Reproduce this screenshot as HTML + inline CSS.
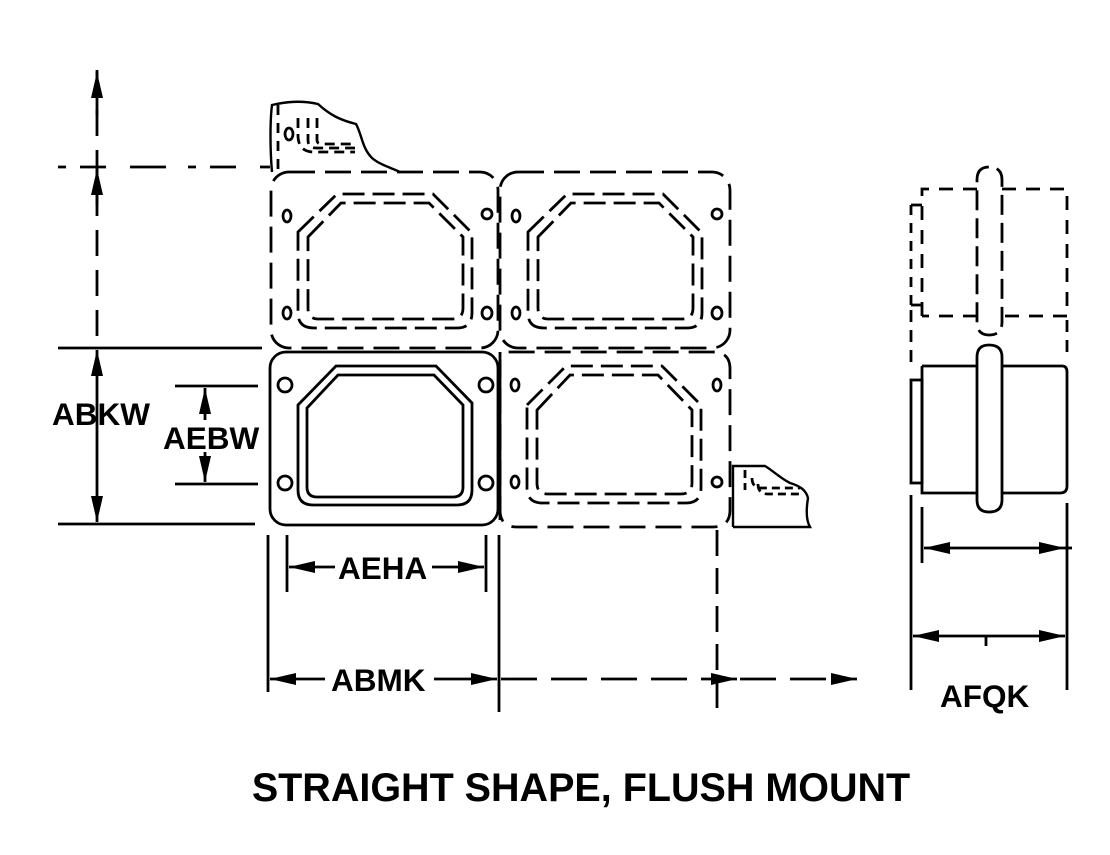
<!DOCTYPE html>
<html><head><meta charset="utf-8"><style>
html,body{margin:0;padding:0;background:#fff;}
svg{display:block;}
text{font-family:"Liberation Sans",Arial,sans-serif;font-weight:bold;fill:#000;}
</style></head><body>
<svg width="1110" height="855" viewBox="0 0 1110 855" xmlns="http://www.w3.org/2000/svg">
<defs>
<marker id="a" viewBox="0 0 26 12" refX="26" refY="6" markerWidth="26" markerHeight="12" markerUnits="userSpaceOnUse" orient="auto-start-reverse"><path d="M0,0 L26,6 L0,12 Z" fill="#000"/></marker>
</defs>
<g fill="none" stroke="#000" stroke-width="2.8">
<!-- left dims -->
<line x1="97" y1="70" x2="97" y2="348" stroke-dasharray="26,14" />
<line x1="97" y1="115" x2="97" y2="72" marker-end="url(#a)"/>
<line x1="97" y1="205" x2="97" y2="169" marker-end="url(#a)"/>
<line x1="58" y1="167" x2="270" y2="167" stroke-dasharray="8,14,26,24,36,22" />
<line x1="58" y1="348" x2="262" y2="348"/>
<line x1="58" y1="524" x2="255" y2="524"/>
<line x1="97" y1="350" x2="97" y2="522" marker-start="url(#a)" marker-end="url(#a)"/>
<line x1="175" y1="386" x2="258" y2="386"/>
<line x1="175" y1="484" x2="258" y2="484"/>
<line x1="205" y1="388" x2="205" y2="420" marker-start="url(#a)"/>
<line x1="205" y1="452" x2="205" y2="482" marker-end="url(#a)"/>
<!-- bottom dims -->
<line x1="287" y1="535" x2="287" y2="592"/>
<line x1="486" y1="535" x2="486" y2="592"/>
<line x1="289" y1="567" x2="335" y2="567" marker-start="url(#a)"/>
<line x1="432" y1="567" x2="484" y2="567" marker-end="url(#a)"/>
<line x1="268" y1="535" x2="268" y2="692"/>
<line x1="499" y1="535" x2="499" y2="712"/>
<line x1="270" y1="679" x2="325" y2="679" marker-start="url(#a)"/>
<line x1="434" y1="679" x2="497" y2="679" marker-end="url(#a)"/>
<line x1="501" y1="679" x2="737" y2="679" stroke-dasharray="36,14" marker-end="url(#a)"/>
<line x1="740" y1="679" x2="857" y2="679" stroke-dasharray="36,14" marker-end="url(#a)"/>
<line x1="717" y1="530" x2="717" y2="715" stroke-dasharray="26,12"/>
<!-- top fragment -->
<path d="M272,172 C270,150 270,120 272,105 C285,102 300,100 318,104 C330,115 340,120 356,124 C362,135 362,148 372,158 C380,165 392,168 400,172" stroke-width="2.4"/>
<path d="M278,105 L278,170" stroke-dasharray="10,8"/>
<path d="M298,118 L298,135 Q298,152 314,152 L355,152 M308,118 L308,140 Q308,148 316,148 L355,148 M317,118 L317,140 Q317,144 322,144 L355,144" stroke-dasharray="10,6"/>
<ellipse cx="289" cy="134" rx="4" ry="6"/>
<!-- top-left plate -->
<rect x="271" y="172" width="227" height="176" rx="18" stroke-dasharray="26,10"/>
<path d="M298,232 L337,194 L433,194 L472,233 L472,313 Q472,328 457,328 L314,328 Q298,328 298,313 Z" stroke-dasharray="22,8"/>
<path d="M308,237 L341,203 L429,203 L463,237 L463,308 Q463,319 452,319 L318,319 Q308,319 308,308 Z" stroke-dasharray="22,8"/>
<ellipse cx="287" cy="216" rx="4" ry="6"/><ellipse cx="487" cy="214" rx="5" ry="5"/>
<ellipse cx="287" cy="313" rx="4" ry="6"/><ellipse cx="487" cy="313" rx="5" ry="6"/>
<!-- top-right plate -->
<rect x="500" y="172" width="230" height="176" rx="18" stroke-dasharray="26,10"/>
<path d="M528,232 L567,194 L663,194 L702,233 L702,313 Q702,328 687,328 L544,328 Q528,328 528,313 Z" stroke-dasharray="22,8"/>
<path d="M538,237 L571,203 L659,203 L693,237 L693,308 Q693,319 682,319 L548,319 Q538,319 538,308 Z" stroke-dasharray="22,8"/>
<ellipse cx="516" cy="216" rx="4" ry="6"/><ellipse cx="717" cy="214" rx="5" ry="5"/>
<ellipse cx="516" cy="313" rx="4" ry="6"/><ellipse cx="717" cy="313" rx="5" ry="6"/>
<!-- bottom-left solid plate -->
<rect x="270" y="352" width="228" height="173" rx="16"/>
<path d="M298,405 L336,366 L436,366 L472,403 L472,490 Q472,505 457,505 L313,505 Q298,505 298,490 Z"/>
<path d="M307,408 L338,375 L434,375 L463,405 L463,487 Q463,497 453,497 L317,497 Q307,497 307,487 Z"/>
<circle cx="285" cy="385" r="7"/><circle cx="486" cy="385" r="7"/>
<circle cx="285" cy="483" r="7"/><circle cx="486" cy="483" r="7"/>
<!-- bottom-right plate -->
<path d="M500,352 L500,510 Q500,527 517,527 L713,527 Q730,527 730,510 L730,369 Q730,352 713,352 Z" stroke-dasharray="26,10"/>
<line x1="500" y1="360" x2="500" y2="520"/>
<path d="M527,405 L566,366 L662,366 L701,405 L701,488 Q701,503 686,503 L543,503 Q527,503 527,488 Z" stroke-dasharray="22,8"/>
<path d="M537,410 L570,375 L658,375 L692,410 L692,483 Q692,494 681,494 L547,494 Q537,494 537,483 Z" stroke-dasharray="22,8"/>
<ellipse cx="515" cy="385" rx="4" ry="6"/><ellipse cx="717" cy="385" rx="4" ry="6"/>
<ellipse cx="515" cy="482" rx="4" ry="6"/><ellipse cx="717" cy="482" rx="5" ry="5"/>
<!-- bottom-right fragment -->
<path d="M733,527 L733,466 L765,466 C772,470 780,478 790,483 C800,486 806,490 808,498 C806,510 806,520 810,527 L733,527" stroke-width="2.4"/>
<path d="M745,470 L745,490 M752,478 Q752,488 762,488 L800,488 M758,484 Q758,494 768,494 L800,494" stroke-dasharray="8,5"/>
<!-- side view -->
<path d="M922,316 L922,189 L977,189 M1002,189 L1067,189 L1067,316 L1002,316 M977,316 L922,316" stroke-dasharray="14,10"/>
<path d="M911,205 L911,305" stroke-dasharray="10,8"/>
<line x1="911" y1="205" x2="922" y2="205"/><line x1="911" y1="305" x2="922" y2="305"/>
<line x1="911" y1="310" x2="911" y2="362" stroke-dasharray="12,8"/>
<line x1="1067" y1="320" x2="1067" y2="358" stroke-dasharray="12,8"/>
<path d="M977,180 Q977,167 989,167 Q1002,167 1002,180 L1002,322 Q1002,335 989,335 Q977,335 977,322 Z" stroke-dasharray="20,8"/>
<path d="M922,366 L977,366 M1002,366 L1062,366 Q1067,366 1067,372 L1067,486 Q1067,493 1060,493 L1002,493 M977,493 L922,493 L922,366"/>
<rect x="911" y="380" width="11" height="103"/>
<path d="M977,357 Q977,345 989,345 Q1002,345 1002,357 L1002,500 Q1002,512 989,512 Q977,512 977,500 Z"/>
<line x1="922" y1="507" x2="922" y2="563"/>
<line x1="1067" y1="503" x2="1067" y2="690"/>
<line x1="911" y1="495" x2="911" y2="690"/>
<line x1="924" y1="548" x2="1065" y2="548" marker-start="url(#a)" marker-end="url(#a)"/>
<line x1="1065" y1="548" x2="1072" y2="548"/>
<line x1="913" y1="636" x2="1065" y2="636" marker-start="url(#a)" marker-end="url(#a)"/>
<line x1="986" y1="636" x2="986" y2="646"/>
</g>
<g font-size="31.5">
<text x="52" y="425">ABKW</text>
<text x="163" y="449">AEBW</text>
<text x="338" y="579">AEHA</text>
<text x="331" y="691">ABMK</text>
<text x="940" y="707">AFQK</text>
</g>
<text x="581" y="801" font-size="39.5" text-anchor="middle">STRAIGHT SHAPE, FLUSH MOUNT</text>
</svg>
</body></html>
